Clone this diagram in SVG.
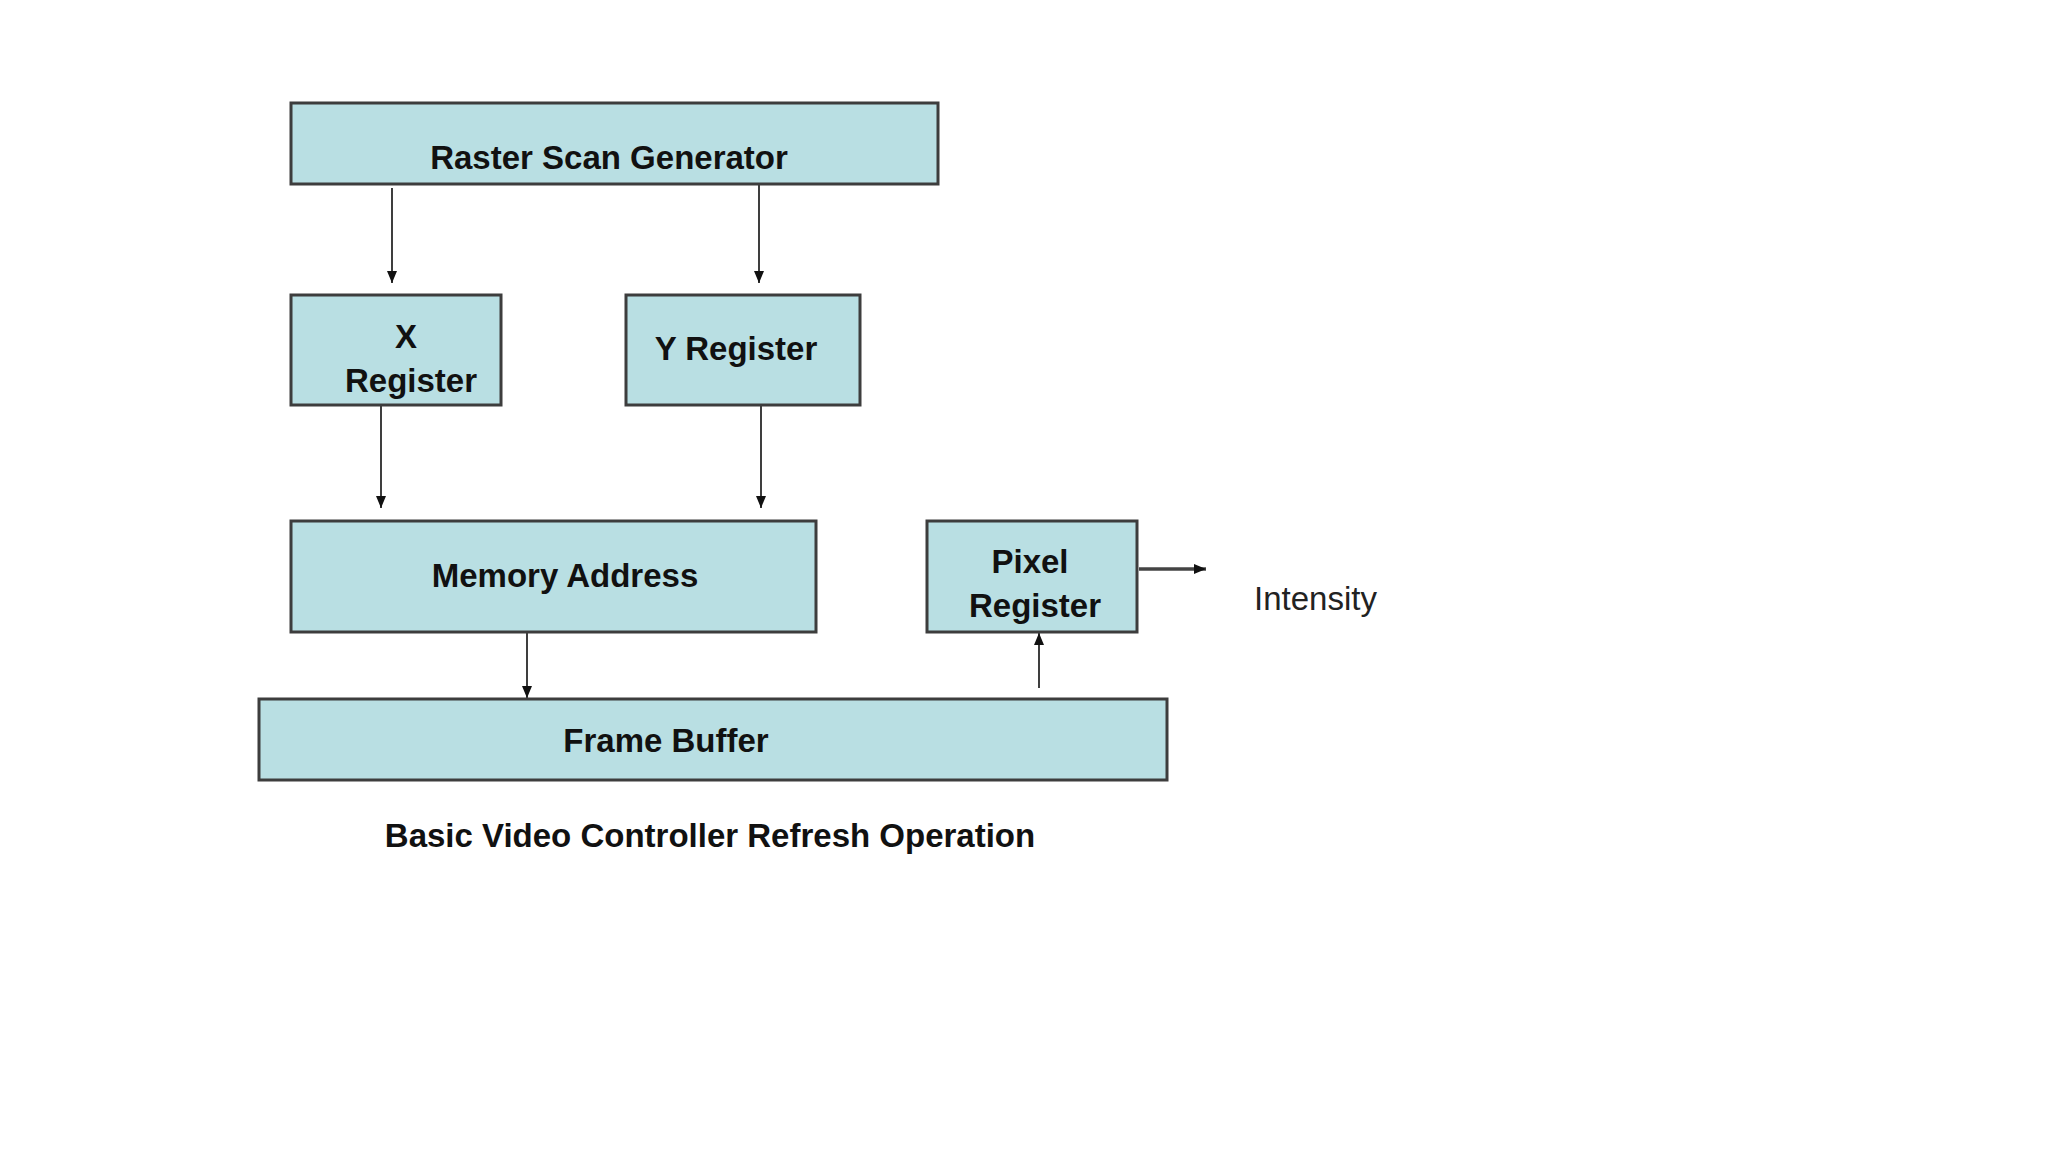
<svg xmlns="http://www.w3.org/2000/svg" width="2048" height="1152" viewBox="0 0 2048 1152">
<style>
.box{fill:#b9dfe3;stroke:#3d3d3d;stroke-width:3}
.lbl{font-family:"Liberation Sans",Arial,sans-serif;font-size:33px;font-weight:bold;fill:#111;text-anchor:middle}
.plain{font-family:"Liberation Sans",Arial,sans-serif;font-size:33px;fill:#222}
.wire{stroke:#2a2a2a;stroke-width:1.8;fill:none}
.wire2{stroke:#444;stroke-width:3.5;fill:none}
</style>
<defs>
<marker id="ah" markerUnits="userSpaceOnUse" markerWidth="14" markerHeight="12" refX="12" refY="5" orient="auto">
<path d="M0,0 L12,5 L0,10 Z" fill="#111"/>
</marker>
</defs>
<rect width="2048" height="1152" fill="#ffffff"/>
<g id="connectors">
<line class="wire" x1="392" y1="188" x2="392" y2="283" marker-end="url(#ah)"/>
<line class="wire" x1="759" y1="177" x2="759" y2="283" marker-end="url(#ah)"/>
<line class="wire" x1="381" y1="405" x2="381" y2="508" marker-end="url(#ah)"/>
<line class="wire" x1="761" y1="405" x2="761" y2="508" marker-end="url(#ah)"/>
<line class="wire" x1="527" y1="632" x2="527" y2="698" marker-end="url(#ah)"/>
<line class="wire" x1="1039" y1="688" x2="1039" y2="633" marker-end="url(#ah)"/>
<line class="wire2" x1="1139" y1="569" x2="1206" y2="569" marker-end="url(#ah)"/>
</g>
<g id="raster">
<rect class="box" x="291" y="103" width="647" height="81"/>
<text class="lbl" x="609" y="169">Raster Scan Generator</text>
</g>
<g id="xreg">
<rect class="box" x="291" y="295" width="210" height="110"/>
<text class="lbl" x="406" y="348">X</text>
<text class="lbl" x="411" y="392">Register</text>
</g>
<g id="yreg">
<rect class="box" x="626" y="295" width="234" height="110"/>
<text class="lbl" x="736" y="360">Y Register</text>
</g>
<g id="memory">
<rect class="box" x="291" y="521" width="525" height="111"/>
<text class="lbl" x="565" y="587">Memory Address</text>
</g>
<g id="pixel">
<rect class="box" x="927" y="521" width="210" height="111"/>
<text class="lbl" x="1030" y="573">Pixel</text>
<text class="lbl" x="1035" y="617">Register</text>
</g>
<g id="frame">
<rect class="box" x="259" y="699" width="908" height="81"/>
<text class="lbl" x="666" y="752">Frame Buffer</text>
</g>
<g id="intensity">
<text class="plain" x="1254" y="610">Intensity</text>
</g>
<g id="caption">
<text class="lbl" x="710" y="847">Basic Video Controller Refresh Operation</text>
</g>
</svg>
